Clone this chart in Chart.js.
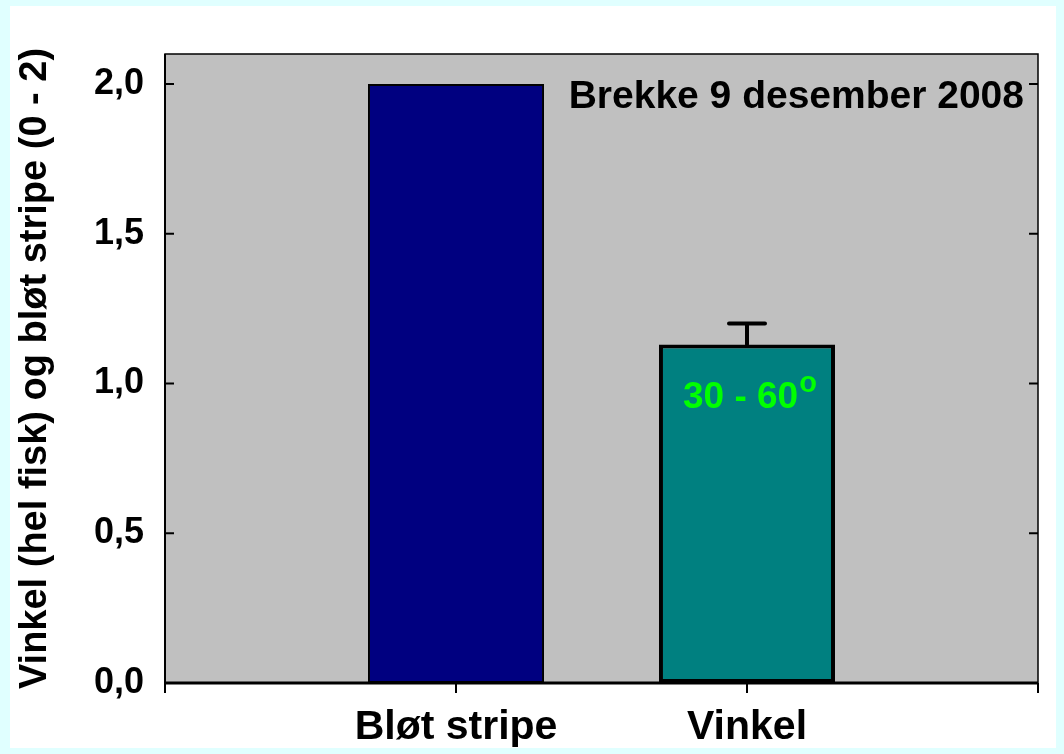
<!DOCTYPE html>
<html>
<head>
<meta charset="utf-8">
<script src="https://cdn.jsdelivr.net/npm/chart.js@4/dist/chart.umd.min.js"></script>
<style>
  body { margin: 0; background: #E0FFFF; }
  canvas { display: block; }
</style>
</head>
<body>
<canvas id="chart" width="1064" height="754"></canvas>
<script>
// kategorier (tomme plasser i hver ende gir tick-merker ved kantene)
var kategorier = ['', 'Bløt stripe', 'Vinkel', ''];
var verdier = [null, 2.0, 1.13, null];
var feil = [null, null, 0.07, null];
var yTicks = [0, 0.5, 1.0, 1.5, 2.0];
var yMaks = 2.1;

var FONT = '"Liberation Sans", Arial, Helvetica, sans-serif';

var pynt = {
  id: 'pynt',
  beforeDraw: function (chart) {
    var ctx = chart.ctx, a = chart.chartArea;
    ctx.save();
    ctx.fillStyle = '#E0FFFF';
    ctx.fillRect(0, 0, chart.width, chart.height);
    ctx.fillStyle = '#FFFFFF';
    ctx.fillRect(10, 6, chart.width - 18, chart.height - 12);
    ctx.fillStyle = '#C0C0C0';
    ctx.fillRect(a.left, a.top, a.right - a.left, a.bottom - a.top);
    ctx.restore();
  },
  afterDatasetsDraw: function (chart) {
    var ctx = chart.ctx, a = chart.chartArea;
    var x = chart.scales.x, y = chart.scales.y;
    ctx.save();
    ctx.strokeStyle = '#000';

    // ramme
    ctx.lineWidth = 1.5;
    ctx.strokeRect(a.left, a.top, a.right - a.left, a.bottom - a.top);
    ctx.lineWidth = 2;
    ctx.beginPath();
    ctx.moveTo(a.left, a.top); ctx.lineTo(a.left, a.bottom);
    ctx.stroke();
    ctx.lineWidth = 3;
    ctx.beginPath();
    ctx.moveTo(a.left, a.bottom); ctx.lineTo(a.right, a.bottom);
    ctx.stroke();

    // tick-merker innover på begge sider
    ctx.lineWidth = 2;
    yTicks.forEach(function (v) {
      var py = y.getPixelForValue(v);
      ctx.beginPath();
      ctx.moveTo(a.left, py); ctx.lineTo(a.left + 9, py);
      ctx.moveTo(a.right - 9, py); ctx.lineTo(a.right, py);
      ctx.stroke();
    });

    // feilstolper
    ctx.lineWidth = 4;
    ctx.lineCap = 'round';
    feil.forEach(function (f, i) {
      if (f == null || verdier[i] == null) return;
      var px = x.getPixelForValue(i);
      var p0 = y.getPixelForValue(verdier[i]);
      var p1 = y.getPixelForValue(verdier[i] + f);
      ctx.beginPath();
      ctx.moveTo(px, p0); ctx.lineTo(px, p1);
      ctx.moveTo(px - 18, p1); ctx.lineTo(px + 18, p1);
      ctx.stroke();
    });

    // tekster
    ctx.fillStyle = '#000';
    ctx.font = 'bold 39px ' + FONT;
    ctx.textAlign = 'right';
    ctx.textBaseline = 'alphabetic';
    ctx.fillText('Brekke 9 desember 2008', a.right - 14, a.top + 54);

    var vx = x.getPixelForValue(2) - 64;
    var vy = a.top + 354;
    ctx.fillStyle = '#00FF00';
    ctx.textAlign = 'left';
    ctx.font = 'bold 37px ' + FONT;
    ctx.fillText('30 - 60', vx, vy);
    var w = ctx.measureText('30 - 60').width;
    ctx.font = 'bold 29px ' + FONT;
    ctx.fillText('o', vx + w + 1, vy - 16);
    ctx.restore();
  }
};

new Chart(document.getElementById('chart'), {
  type: 'bar',
  data: {
    labels: kategorier,
    datasets: [{
      data: verdier,
      backgroundColor: ['#000080', '#000080', '#008080', '#008080'],
      borderColor: '#000',
      borderWidth: [2, 2, 4, 4],
      borderSkipped: false,
      barPercentage: 0.605,
      categoryPercentage: 1
    }]
  },
  options: {
    responsive: false,
    animation: false,
    devicePixelRatio: 1,
    layout: { padding: { top: 54, right: 26, bottom: 0, left: 10 } },
    plugins: {
      legend: { display: false },
      tooltip: { enabled: false }
    },
    scales: {
      x: {
        offset: false,
        grid: { offset: false, drawOnChartArea: false, drawTicks: true, tickLength: 10, color: '#000', lineWidth: 2 },
        border: { display: false },
        ticks: {
          color: '#000',
          padding: 10,
          maxRotation: 0,
          autoSkip: false,
          font: { family: FONT, size: 41, weight: 'bold' }
        },
        afterFit: function (s) { s.height = 71; }
      },
      y: {
        min: 0,
        max: yMaks,
        grid: { display: false, drawTicks: false },
        border: { display: false },
        afterBuildTicks: function (s) {
          s.ticks = yTicks.map(function (v) { return { value: v }; });
        },
        ticks: {
          color: '#000',
          padding: 21,
          font: { family: FONT, size: 36, weight: 'bold' },
          callback: function (v) { return v.toFixed(1).replace('.', ','); }
        },
        title: {
          display: true,
          text: 'Vinkel (hel fisk) og bløt stripe (0 - 2)',
          color: '#000',
          padding: { top: 3, bottom: 0 },
          font: { family: FONT, size: 38, weight: 'bold' }
        },
        afterFit: function (s) { s.width = 155; }
      }
    }
  },
  plugins: [pynt]
});
</script>
</body>
</html>
